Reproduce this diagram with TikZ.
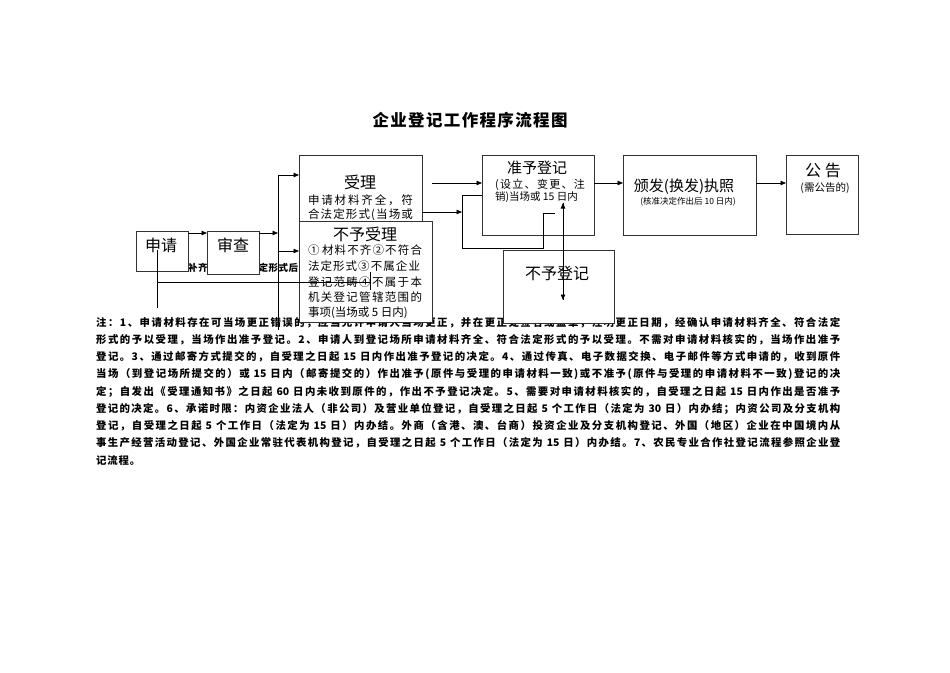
\documentclass[tikz,border=0pt]{standalone}
\usepackage{fontspec}
\setmainfont{Noto Sans CJK SC}
\usetikzlibrary{arrows.meta}
\XeTeXinterchartokenstate=1
\newXeTeXintercharclass\cjkcls
\newcount\cjkcnt
\def\setcjkrange#1#2{\cjkcnt=#1\relax\loop\XeTeXcharclass\cjkcnt=\cjkcls\advance\cjkcnt by 1\relax\ifnum\cjkcnt<#2\relax\repeat}
\setcjkrange{"4E00}{"A000}
\setcjkrange{"3000}{"3040}
\setcjkrange{"FF00}{"FF60}
\setcjkrange{"2460}{"2474}
\XeTeXinterchartoks\cjkcls\cjkcls={\hskip0pt plus 1fil\relax}
\XeTeXinterchartoks 0 \cjkcls={\hskip0pt plus 1fil\relax}
\XeTeXinterchartoks\cjkcls 0 ={\hskip0pt plus 1fil\relax}
\newcommand\gp{\kern4pt\relax}
\begin{document}
\begin{tikzpicture}[x=1pt,y=-1pt,
  box/.style={draw=black!80, line width=1pt, fill=white, rectangle, inner sep=0pt, outer sep=0pt},
  lbl/.style={inner sep=0pt, outer sep=0pt},
  note/.style={anchor=west, inner sep=0pt, font=\bfseries\fontsize{10.4}{12}\selectfont},
  arr/.style={-{Triangle[length=5.5pt,width=4.5pt]}, line width=0.7pt},
  ln/.style={line width=0.7pt},
  big/.style={lbl, font=\fontsize{16}{18}\selectfont},
  body/.style={lbl, anchor=west, font=\fontsize{11.5}{13}\selectfont}]
\useasboundingbox (0,0) rectangle (950,672);
\fill[white] (0,0) rectangle (950,672);

% title
\node[lbl, font=\bfseries\fontsize{16.5}{18}\selectfont] (title) at (470,120) {\makebox[195pt][s]{企业登记工作程序流程图}};

% notes
\node[note] (n1) at (96,322.7) {\makebox[744pt][s]{注：1、申请材料存在可当场更正错误的，应当允许申请人当场更正，并在更正处签名或盖章，注明更正日期，经确认申请材料齐全、符合法定}};
\node[note] (n2) at (96,339.9) {\makebox[744pt][s]{形式的予以受理，当场作出准予登记。2、申请人到登记场所申请材料齐全、符合法定形式的予以受理。不需对申请材料核实的，当场作出准予}};
\node[note] (n3) at (96,357.1) {\makebox[744pt][s]{登记。3、通过邮寄方式提交的，自受理之日起\gp 15\gp 日内作出准予登记的决定。4、通过传真、电子数据交换、电子邮件等方式申请的，收到原件}};
\node[note] (n4) at (96,374.3) {\makebox[744pt][s]{当场（到登记场所提交的）或\gp 15\gp 日内（邮寄提交的）作出准予(原件与受理的申请材料一致)或不准予(原件与受理的申请材料不一致)登记的决}};
\node[note] (n5) at (96,391.5) {\makebox[744pt][s]{定；自发出《受理通知书》之日起\gp 60\gp 日内未收到原件的，作出不予登记决定。5、需要对申请材料核实的，自受理之日起\gp 15\gp 日内作出是否准予}};
\node[note] (n6) at (96,408.7) {\makebox[744pt][s]{登记的决定。6、承诺时限：内资企业法人（非公司）及营业单位登记，自受理之日起\gp 5\gp 个工作日（法定为\gp 30\gp 日）内办结；内资公司及分支机构}};
\node[note] (n7) at (96,425.9) {\makebox[744pt][s]{登记，自受理之日起\gp 5\gp 个工作日（法定为\gp 15\gp 日）内办结。外商（含港、澳、台商）投资企业及分支机构登记、外国（地区）企业在中国境内从}};
\node[note] (n8) at (96,443.1) {\makebox[744pt][s]{事生产经营活动登记、外国企业常驻代表机构登记，自受理之日起\gp 5\gp 个工作日（法定为\gp 15\gp 日）内办结。7、农民专业合作社登记流程参照企业登}};
\node[note] (n9) at (96,460.3) {\makebox[44pt][s]{记流程。}};

% partly hidden text
\node[note, font=\bfseries\fontsize{9.5}{11}\selectfont] (hid) at (188,268) {\makebox[110pt][s]{补齐材料符合法定形式后}};

% boxes
\node[box, minimum width=52pt, minimum height=40pt] (shenqing) at (162,251) {};
\node[box, minimum width=52pt, minimum height=43pt] (shencha) at (233,252.5) {};
\node[box, minimum width=123pt, minimum height=85pt] (shouli) at (360.5,197.5) {};
\node[box, minimum width=133pt, minimum height=101pt] (buyushouli) at (365.5,271.5) {};
\node[box, minimum width=112pt, minimum height=80pt] (zhunyu) at (538,195) {};
\node[box, minimum width=133pt, minimum height=80pt] (banfa) at (689.5,195) {};
\node[box, minimum width=72pt, minimum height=79pt] (gonggao) at (822,194.5) {};
\node[box, minimum width=111pt, minimum height=73pt] (buyudengji) at (558.5,286.5) {};

% box texts
\node[big] (t-sq) at (161,245) {申请};
\node[big] (t-sc) at (233,245) {审查};
\node[big] (t-sl) at (360,182) {受理};
\node[body] (t-sl1) at (308,200) {\makebox[105pt][s]{申请材料齐全，符}};
\node[body] (t-sl2) at (308,215) {\makebox[105pt][s]{合法定形式(当场或}};
\node[big] (t-bsl) at (365,234) {不予受理};
\node[body] (t-b1) at (308,250) {\makebox[114pt][s]{① 材料不齐②不符合}};
\node[body] (t-b2) at (308,266.5) {\makebox[112pt][s]{法定形式③不属企业}};
\node[body] (t-b3) at (308,282) {\makebox[114pt][s]{登记范畴④不属于本}};
\node[body] (t-b4) at (308,297.5) {\makebox[114pt][s]{机关登记管辖范围的}};
\node[body] (t-b5) at (308,313) {事项(当场或 5 日内)};
\node[lbl, font=\fontsize{15}{17}\selectfont] (t-zy) at (537,168) {准予登记};
\node[lbl, anchor=west, font=\fontsize{11}{13}\selectfont] (t-zy1) at (495,184.5) {\makebox[90pt][s]{(设立、变更、注}};
\node[lbl, anchor=west, font=\fontsize{10.5}{13}\selectfont] (t-zy2) at (495,197.5) {销)当场或 15 日内};
\node[lbl, font=\fontsize{15}{17}\selectfont] (t-bf) at (684,187) {颁发(换发)执照};
\node[lbl, font=\fontsize{8.5}{10}\selectfont] (t-bf1) at (688,202) {(核准决定作出后 10 日内)};
\node[big] (t-gg) at (823,170) {公 告};
\node[lbl, font=\fontsize{10.5}{12}\selectfont] (t-gg1) at (825,188) {(需公告的)};
\node[big] (t-bydj) at (557,273) {不予登记};

% coordinates for connectors
\coordinate (j1) at (278,233);
\coordinate (jt) at (278,175);
\coordinate (jm) at (278,251);
\coordinate (jb) at (278,330);
\coordinate (s1) at (157,250);
\coordinate (s2) at (157,308);
\coordinate (s3) at (157,282);
\coordinate (s4) at (370,282);
\coordinate (s5) at (370,272);
\coordinate (s6) at (370,290);
\coordinate (a1) at (0,183);
\coordinate (k1) at (462,212);
\coordinate (L1) at (462,195);
\coordinate (L2) at (462,248);
\coordinate (L3) at (543,248);
\coordinate (L4) at (543,213);
\coordinate (L5) at (555,213);
\coordinate (d1) at (563,203);
\coordinate (d2) at (563,300);

% connectors
\draw[arr] (shenqing.east |- j1) -- (shencha.west |- j1);
\draw[arr] (shencha.east |- j1) -- (j1);
\draw[ln] (jt) -- (jb);
\draw[arr] (jt) -- (shouli.west |- jt);
\draw[arr] (jm) -- (buyushouli.west |- jm);
\draw[ln] (s1) -- (s2);
\draw[ln] (s3) -- (s4);
\draw[ln] (s5) -- (s6);
\draw[arr] (buyushouli.east |- a1) -- (zhunyu.west |- a1);
\draw[arr] (shouli.east |- k1) -- (k1);
\draw[ln] (zhunyu.west |- L1) -- (L1) -- (L2) -- (L3) -- (L4) -- (L5);
\draw[arr] (d1) -- (d2);
\draw[arr] (d2) -- (d1);
\draw[arr] (zhunyu.east |- a1) -- (banfa.west |- a1);
\draw[arr] (banfa.east |- a1) -- (gonggao.west |- a1);
\end{tikzpicture}
\end{document}
